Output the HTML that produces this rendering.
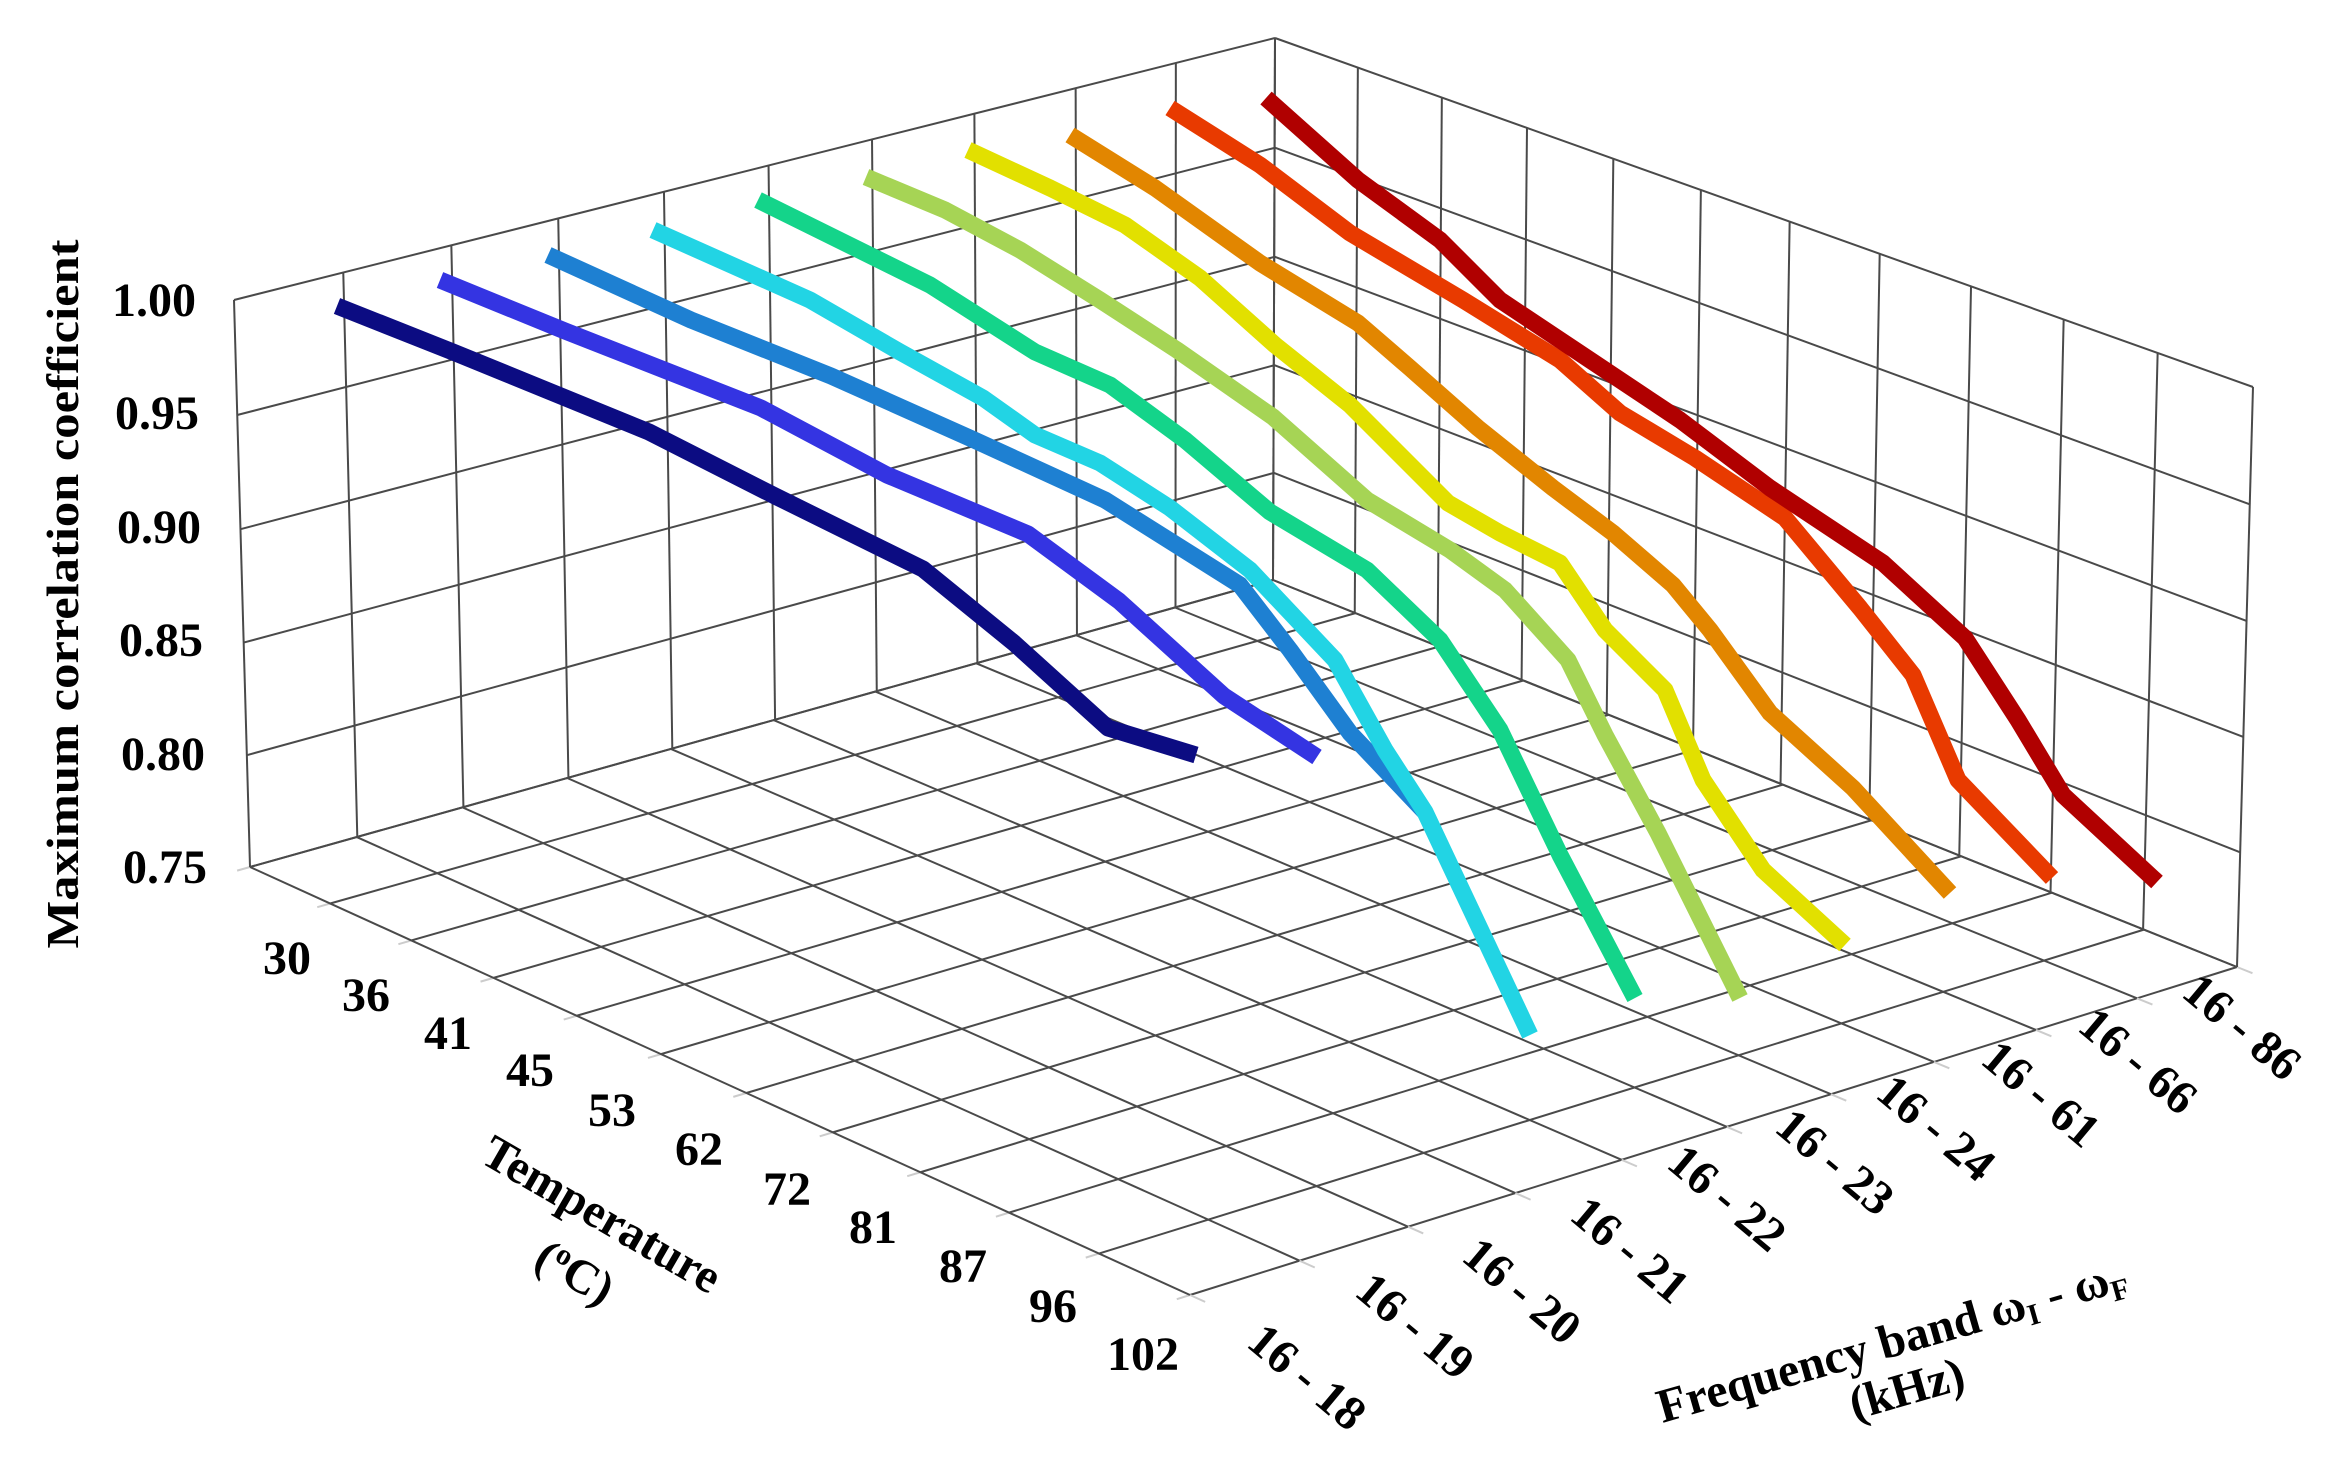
<!DOCTYPE html>
<html><head><meta charset="utf-8"><style>
html,body{margin:0;padding:0;background:#fff}
svg{display:block}
text{font-family:"Liberation Serif",serif;font-weight:bold;fill:#000}
</style></head><body>
<svg id="s" width="2341" height="1468" viewBox="0 0 2341 1468" xmlns="http://www.w3.org/2000/svg">
<g id="grid" stroke="#4a4a4a" stroke-width="2" fill="none"></g>
<g fill="none" stroke-width="17" stroke-linejoin="round" stroke-linecap="butt">
<polyline stroke="#0c0c82" points="337,306 453,352 649,432 775,496 923,569 1014,643 1108,728 1196,755"/>
<polyline stroke="#3434e2" points="440,280 565,331 761,408 887,475 1028,534 1119,601 1224,696 1317,757"/>
<polyline stroke="#1e80d2" points="548,255 691,320 831,376 972,439 1105,500 1240,585 1290,650 1350,733 1425,812"/>
<polyline stroke="#22d4e4" points="653,230 810,300 900,352 983,398 1035,435 1100,463 1170,508 1250,570 1335,660 1385,750 1425,812 1530,1035"/>
<polyline stroke="#14d48a" points="758,200 930,285 1035,352 1110,385 1185,440 1270,512 1367,570 1440,640 1500,730 1560,855 1635,998"/>
<polyline stroke="#a6d455" points="866,177 945,210 1020,250 1100,300 1177,350 1273,417 1367,500 1450,550 1505,590 1568,660 1605,735 1658,833 1740,998"/>
<polyline stroke="#e2e000" points="968,150 1050,188 1125,225 1200,278 1275,345 1350,405 1395,450 1448,503 1500,533 1560,563 1605,630 1665,690 1703,780 1763,870 1845,945"/>
<polyline stroke="#e28600" points="1070,135 1155,188 1260,263 1358,323 1410,368 1478,428 1553,488 1613,533 1673,585 1710,630 1770,713 1853,788 1950,893"/>
<polyline stroke="#e83a00" points="1170,108 1260,165 1350,233 1463,300 1560,360 1620,413 1695,458 1785,518 1860,608 1913,675 1958,780 2052,878"/>
<polyline stroke="#b00000" points="1266,98 1358,180 1440,240 1500,300 1590,360 1680,420 1770,488 1883,563 1965,638 2018,720 2063,795 2157,882"/>
</g>
<g font-size="48" text-anchor="end">
<text x="196" y="316">1.00</text>
<text x="199" y="429">0.95</text>
<text x="201" y="543">0.90</text>
<text x="203" y="656">0.85</text>
<text x="205" y="770">0.80</text>
<text x="207" y="883">0.75</text>
</g>
<text font-size="46" text-anchor="middle" transform="translate(78,594) rotate(-90)" textLength="709" lengthAdjust="spacingAndGlyphs">Maximum correlation coefficient</text>
<g font-size="48" text-anchor="middle">
<text x="287" y="974">30</text>
<text x="366" y="1011">36</text>
<text x="448" y="1049">41</text>
<text x="530" y="1086">45</text>
<text x="612" y="1126">53</text>
<text x="699" y="1165">62</text>
<text x="787" y="1205">72</text>
<text x="873" y="1243">81</text>
<text x="963" y="1282">87</text>
<text x="1053" y="1322">96</text>
<text x="1143" y="1370">102</text>
</g>
<g font-size="48" text-anchor="middle">
<text transform="translate(1297,1389) rotate(40)">16 - 18</text>
<text transform="translate(1405,1338) rotate(40)">16 - 19</text>
<text transform="translate(1512,1303) rotate(40)">16 - 20</text>
<text transform="translate(1620,1262) rotate(40)">16 - 21</text>
<text transform="translate(1717,1210) rotate(40)">16 - 22</text>
<text transform="translate(1825,1174) rotate(40)">16 - 23</text>
<text transform="translate(1926,1140) rotate(40)">16 - 24</text>
<text transform="translate(2031,1106) rotate(40)">16 - 61</text>
<text transform="translate(2128,1073) rotate(40)">16 - 66</text>
<text transform="translate(2232,1039) rotate(40)">16 - 86</text>
</g>
<text font-size="48" text-anchor="middle" transform="translate(594,1228) rotate(30)">Temperature</text>
<text font-size="48" text-anchor="middle" transform="translate(567,1286) rotate(30)">(<tspan font-size="30" dy="-16">o</tspan><tspan dy="16">C)</tspan></text>
<text font-size="48" text-anchor="middle" transform="translate(1896,1356) rotate(-16)">Frequency band ω<tspan font-size="30" dy="8">I</tspan><tspan dy="-8"> - ω</tspan><tspan font-size="30" dy="8">F</tspan></text>
<text font-size="48" text-anchor="middle" transform="translate(1911,1404) rotate(-16)">(kHz)</text>
</svg>
<script>
(function(){
function H(p0,p1,p2,p3){
 var x0=p0[0],y0=p0[1],x1=p1[0],y1=p1[1],x2=p2[0],y2=p2[1],x3=p3[0],y3=p3[1];
 var dx1=x1-x2,dx2=x3-x2,dx3=x0-x1+x2-x3,dy1=y1-y2,dy2=y3-y2,dy3=y0-y1+y2-y3;
 var det=dx1*dy2-dx2*dy1;
 var g=(dx3*dy2-dx2*dy3)/det,h=(dx1*dy3-dx3*dy1)/det;
 var a=x1-x0+g*x1,b=x3-x0+h*x3,c=x0,d=y1-y0+g*y1,e=y3-y0+h*y3,f=y0;
 return function(u,v){var w=g*u+h*v+1;return [(a*u+b*v+c)/w,(d*u+e*v+f)/w];};
}
var Ab=[250,867],At=[234,300],Db=[1273,580],Dt=[1275,38],Cb=[2237,967],Ct=[2253,387],Bb=[1190,1295];
var floor=H(Ab,Bb,Cb,Db), left=H(Ab,Db,Dt,At), right=H(Db,Cb,Ct,Dt);
var g=document.getElementById('grid'),ns='http://www.w3.org/2000/svg';
function L(p,q,col){var l=document.createElementNS(ns,'line');l.setAttribute('x1',p[0]);l.setAttribute('y1',p[1]);l.setAttribute('x2',q[0]);l.setAttribute('y2',q[1]);if(col)l.setAttribute('stroke',col);g.appendChild(l);}
var i;
for(i=0;i<=11;i++){L(floor(i/11,0),floor(i/11,1));L(floor(i/11,0),floor(i/11,-0.012),'#ccc');}
for(i=0;i<=10;i++){L(floor(0,i/10),floor(1,i/10));L(floor(1,i/10),floor(1.015,i/10),'#ccc');}
for(i=0;i<=10;i++)L(left(i/10,0),left(i/10,1));
for(i=0;i<=5;i++)L(left(0,i/5),left(1,i/5));
for(i=0;i<=11;i++)L(right(i/11,0),right(i/11,1));
for(i=0;i<=5;i++)L(right(0,i/5),right(1,i/5));
})();
</script>
</body></html>
